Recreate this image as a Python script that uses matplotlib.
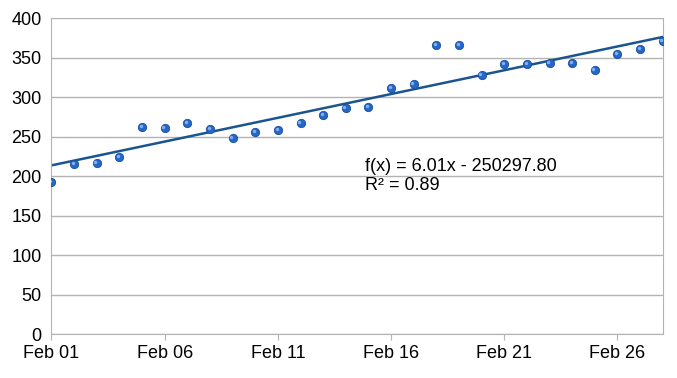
import numpy as np
import matplotlib
matplotlib.use("Agg")
from matplotlib import pyplot as plt
import matplotlib.dates as mdates
import datetime as dt

# valeurs (1 point par jour, février)
days = list(range(1, 29))
values = [193, 216, 217, 224, 262, 261, 267, 260, 249, 256,
          259, 267, 278, 286, 288, 312, 317, 366, 366, 328,
          342, 342, 343, 343, 334, 355, 361, 371]
tick_days = [1, 6, 11, 16, 21, 26]
eq_text = "f(x) = 6.01x - 250297.80\nR² = 0.89"

plt.rcParams['font.family'] = ['Liberation Sans', 'DejaVu Sans']

dates = [dt.datetime(2014, 2, d) for d in days]
xnum = mdates.date2num(dates)

# droite de tendance (moindres carrés)
a, b = np.polyfit(xnum, values, 1)

fig = plt.figure(figsize=(6.77, 3.78), dpi=100)
ax = fig.add_axes([0.076, 0.1156, 0.903, 0.836])

ax.plot(xnum, a * xnum + b, color='#1a5590', lw=1.8, zorder=2)
ax.scatter(xnum, values, s=36, color='#2566c8', edgecolors='#1a4f9e',
           linewidths=0.6, zorder=3)
ax.scatter(xnum - 0.06, np.array(values) + 1.2, s=6, color='#7fb0f0',
           linewidths=0, zorder=4)

ax.set_xlim(xnum[0], xnum[-1])
ax.set_ylim(0, 400)
ax.set_yticks(range(0, 401, 50))
ax.set_xticks(mdates.date2num([dt.datetime(2014, 2, d) for d in tick_days]))
ax.xaxis.set_major_formatter(mdates.DateFormatter('%b %d'))

ax.grid(axis='y', color='#b3b3b3', lw=1)
ax.set_axisbelow(True)
for s in ['left', 'bottom', 'right']:
    ax.spines[s].set_color('#b3b3b3')
ax.spines['top'].set_visible(False)
ax.tick_params(axis='x', colors='#b3b3b3', length=4, labelcolor='black',
               labelsize=13, pad=4)
ax.tick_params(axis='y', length=0, labelcolor='black', labelsize=13, pad=7)

ax.text(mdates.date2num(dt.datetime(2014, 2, 14, 20)), 223, eq_text,
        fontsize=13, va='top', ha='left', linespacing=1.15)

fig.savefig('out.png', dpi=100)
